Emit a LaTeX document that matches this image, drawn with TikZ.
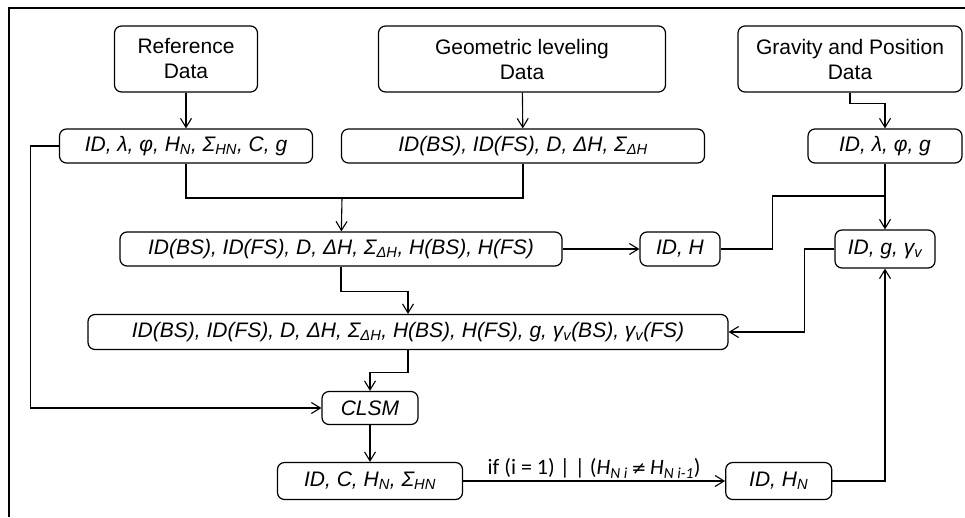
\documentclass[tikz,border=0pt]{standalone}
\usepackage{fontspec}
\setmainfont{Liberation Sans}
\newfontfamily\condfont{Carlito}
\newfontfamily\relfont{DejaVu Sans}
\usetikzlibrary{arrows.meta,positioning}

% subscript in the box labels
\newcommand{\idx}[1]{\textsubscript{#1}}

\tikzset{
  databox/.style={draw, line width=1.2pt, rounded corners=7pt, align=center,
    inner sep=2pt, font=\fontsize{21}{25}\selectfont},
  topbox/.style={databox, minimum height=66pt},
  varbox/.style={databox, minimum height=34pt, font=\fontsize{21}{25}\selectfont\itshape},
  link/.style={line width=1.1pt},
  arr/.style={link, -{Straight Barb[length=9pt,width=11pt,line width=1.1pt]}},
  cond/.style={font=\condfont\fontsize{22}{26}\selectfont, inner sep=2pt}
}

\begin{document}
\begin{tikzpicture}[x=1pt,y=-1pt]

  \useasboundingbox (0,0) rectangle (965,517);
  \draw[line width=2pt] (9,517) -- (9,8) -- (966,8);

  % input data
  \node (refdata) [topbox, minimum width=143pt] at (186,59) {Reference\\Data};
  \node (geodata) [topbox, minimum width=287pt] at (522,59) {Geometric leveling\\Data};
  \node (gravdata) [topbox, minimum width=224pt] at (850,59) {Gravity and Position\\Data};

  \node (refin) [varbox, minimum width=253pt] at (186,146) {ID, λ, φ, H\idx{N}, Σ\idx{HN}, C, g};
  \node (geoin) [varbox, minimum width=363pt] at (523,146) {ID(BS), ID(FS), D, ΔH, Σ\idx{ΔH}};
  \node (gravin) [varbox, minimum width=154pt] at (885,146) {ID, λ, φ, g};

  % levelling line and gravity
  \node (levin) [varbox, minimum width=442pt] at (341,249) {ID(BS), ID(FS), D, ΔH, Σ\idx{ΔH}, H(BS), H(FS)};
  \node (idh) [varbox, minimum width=80pt] at (680,249) {ID, H};
  \node (gravcor) [varbox, minimum width=100pt, minimum height=38pt] at (885,249) {ID, g, γ\idx{v}};

  \node (full) [varbox, minimum width=640pt, minimum height=35pt] at (408,332) {ID(BS), ID(FS), D, ΔH, Σ\idx{ΔH}, H(BS), H(FS), g, γ\idx{v}(BS), γ\idx{v}(FS)};

  % adjustment
  \node (clsm) [varbox, minimum width=96pt, minimum height=33pt] at (370,408) {CLSM};
  \node (res) [varbox, minimum width=185pt, minimum height=37pt] at (370,481) {ID, C, H\idx{N}, Σ\idx{HN}};
  \node (idhn) [varbox, minimum width=106pt, minimum height=37pt, right=262pt of res] {ID, H\idx{N}};

  \coordinate (merge) at (342,198);
  \coordinate (tee) at (885,196);

  \draw[arr] (refdata) -- (refin);
  \draw[arr] (geodata) -- (geoin);
  \draw[arr] (gravdata.south) -- ++(0,11) -| (gravin.north);

  \draw[link] (refin.south) |- (merge) -| (geoin.south);
  \draw[arr] (merge) -- (levin);
  \draw[arr] (levin) -- (idh);
  \draw[arr] (gravin) -- (gravcor);
  \draw[link] (idh.east) -- ++(52,0) |- (tee);

  \draw[arr] (gravcor.west) -- ++(-30,0) |- (full.east);
  \draw[arr] (levin.south) -- ++(0,25) -| (full.north);
  \draw[arr] (full.south) -- ++(0,22) -| (clsm.north);
  \draw[arr] (refin.west) -- ++(-28,0) |- (clsm.west);

  \draw[arr] (clsm) -- (res);
  \draw[arr] (res) -- node[above, cond] {if (i = 1) | | (\textit{H\textsubscript{N i}\,{\relfont\fontsize{18}{20}\selectfont ≠}\,H\textsubscript{N i-1}})} (idhn);
  \draw[arr] (idhn.east) -| (gravcor.south);

\end{tikzpicture}
\end{document}
